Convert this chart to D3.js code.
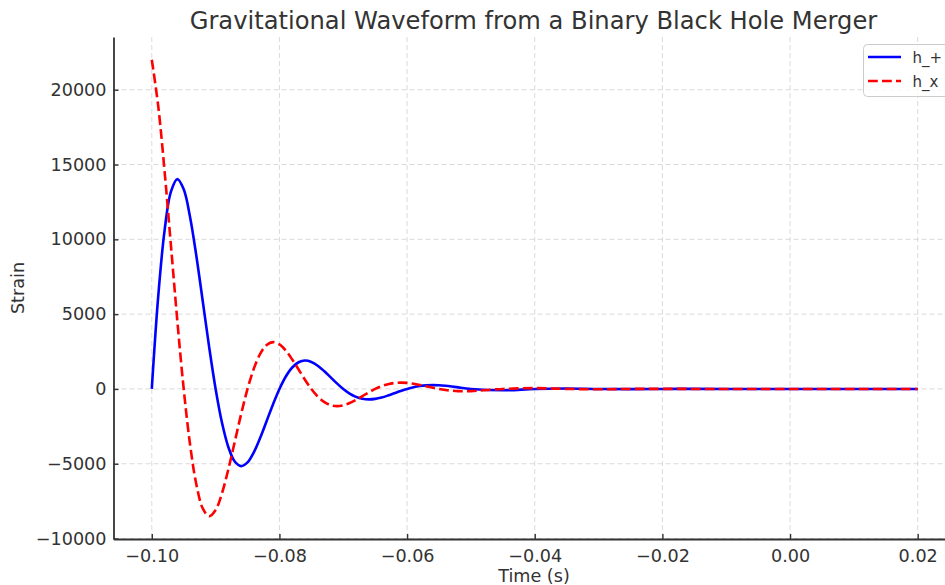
<!DOCTYPE html>
<html>
<head>
<meta charset="utf-8">
<script src="https://cdn.jsdelivr.net/npm/d3@7"></script>
<style>
  body { margin: 0; background: #fff; }
  svg { display: block; font-family: "DejaVu Sans", sans-serif; }
</style>
</head>
<body>
<div id="chart"></div>
<script>
// tijd in seconden (fijn tot -0.05, daarna grover)
const time = [
  -0.100, -0.099, -0.098, -0.097, -0.096, -0.095, -0.094, -0.093, -0.092, -0.091,
  -0.090, -0.089, -0.088, -0.087, -0.086, -0.085, -0.084, -0.083, -0.082, -0.081,
  -0.080, -0.079, -0.078, -0.077, -0.076, -0.075, -0.074, -0.073, -0.072, -0.071,
  -0.070, -0.069, -0.068, -0.067, -0.066, -0.065, -0.064, -0.063, -0.062, -0.061,
  -0.060, -0.059, -0.058, -0.057, -0.056, -0.055, -0.054, -0.053, -0.052, -0.051,
  -0.050, -0.045, -0.040, -0.035, -0.030, -0.025, -0.020, -0.015, -0.010, -0.005,
  0.000, 0.005, 0.010, 0.015, 0.020
];

const hPlus = [
  0, 6151, 10587, 13185, 14025, 13344, 11483, 8838, 5810, 2764,
  0, -2263, -3895, -4851, -5160, -4909, -4224, -3251, -2138, -1017,
  0, 832, 1433, 1784, 1898, 1806, 1554, 1196, 786, 374,
  0, -306, -527, -656, -698, -664, -572, -440, -289, -138,
  0, 113, 194, 241, 257, 244, 210, 162, 106, 51,
  0, -90, 0, 33, 0, -12, 0, 4, 0, 0,
  0, 0, 0, 0, 0
];

const hCross = [
  22000, 18932, 14572, 9580, 4557, 0, -3731, -6421, -7997, -8507,
  -8093, -6965, -5361, -3524, -1676, 0, 1373, 2362, 2942, 3129,
  2977, 2562, 1972, 1296, 617, 0, -505, -869, -1082, -1151,
  -1095, -943, -726, -477, -227, 0, 186, 320, 398, 424,
  403, 347, 267, 175, 83, 0, -68, -118, -146, -156,
  -148, 0, 55, 0, -20, 0, 7, 0, -3, 0,
  0, 0, 0, 0, 0
];

const xTicks = [-0.10, -0.08, -0.06, -0.04, -0.02, 0.00, 0.02];
const yTicks = [-10000, -5000, 0, 5000, 10000, 15000, 20000];

const series = [
  { name: "h_+", values: hPlus, color: "#0000ff", dash: null },
  { name: "h_x", values: hCross, color: "#ff0000", dash: "9.8,4.2" }
];

const W = 945, H = 585;
const mLeft = 113.5, mRight = 956, mTop = 37, mBottom = 539;
const txt = "#333";

const svg = d3.select("#chart").append("svg")
  .attr("width", W).attr("height", H);

const x = d3.scaleLinear().domain([-0.106, 0.026]).range([mLeft, mRight]);
const y = d3.scaleLinear().domain([-10030, 23525]).range([mBottom, mTop]);

// grid
const grid = svg.append("g");
grid.selectAll(".gx").data(xTicks).enter().append("line")
  .attr("x1", d => x(d)).attr("x2", d => x(d))
  .attr("y1", mTop).attr("y2", mBottom)
  .style("stroke", "#d0d0d0").style("stroke-width", 0.8)
  .style("stroke-dasharray", "5,3");
grid.selectAll(".gy").data(yTicks).enter().append("line")
  .attr("x1", mLeft).attr("x2", mRight)
  .attr("y1", d => y(d)).attr("y2", d => y(d))
  .style("stroke", "#d0d0d0").style("stroke-width", 0.8)
  .style("stroke-dasharray", "5,3");

// lijnen
const line = d3.line()
  .x((d, i) => x(time[i]))
  .y(d => y(d))
  .curve(d3.curveCatmullRom.alpha(0.5));

const plot = svg.append("g");
series.forEach(s => {
  plot.append("path")
    .datum(s.values)
    .attr("d", line)
    .style("fill", "none")
    .style("stroke", s.color)
    .style("stroke-width", 2.6)
    .style("stroke-dasharray", s.dash);
});

// assen
const xAxis = d3.axisBottom(x).tickValues(xTicks)
  .tickFormat(d => d3.format(".2f")(d).replace("-", "\u2212"))
  .tickSizeInner(-5).tickSizeOuter(0).tickPadding(11);
const gx = svg.append("g")
  .attr("transform", "translate(0," + mBottom + ")")
  .call(xAxis);

const yAxis = d3.axisLeft(y).tickValues(yTicks)
  .tickFormat(d => String(d).replace("-", "\u2212"))
  .tickSizeInner(-5).tickSizeOuter(0).tickPadding(7);
const gy = svg.append("g")
  .attr("transform", "translate(" + mLeft + ",0)")
  .call(yAxis);

[gx, gy].forEach(g => {
  g.select(".domain").style("stroke", txt).style("stroke-width", 1.8);
  g.selectAll(".tick line").style("stroke", txt).style("stroke-width", 1.4);
  g.selectAll(".tick text")
    .style("fill", txt)
    .style("font-size", "17.6px")
    .style("font-family", "DejaVu Sans");
});
gy.selectAll(".tick text").attr("x", -7);

// titels
svg.append("text")
  .attr("x", 533.5).attr("y", 29)
  .attr("text-anchor", "middle")
  .style("font-size", "24.2px").style("fill", txt)
  .text("Gravitational Waveform from a Binary Black Hole Merger");

svg.append("text")
  .attr("x", 534).attr("y", 582)
  .attr("text-anchor", "middle")
  .style("font-size", "17.6px").style("fill", txt)
  .text("Time (s)");

svg.append("text")
  .attr("transform", "translate(24," + ((mTop + mBottom) / 2) + ") rotate(-90)")
  .attr("text-anchor", "middle")
  .style("font-size", "17.6px").style("fill", txt)
  .text("Strain");

// legenda
const lg = svg.append("g");
lg.append("rect")
  .attr("x", 863.5).attr("y", 44.5)
  .attr("width", 90).attr("height", 52)
  .attr("rx", 4)
  .style("fill", "#fff").style("fill-opacity", 0.8)
  .style("stroke", "#cccccc").style("stroke-width", 1);

series.forEach((s, i) => {
  const ly = 57 + i * 24;
  lg.append("line")
    .attr("x1", 868).attr("x2", 901)
    .attr("y1", ly).attr("y2", ly)
    .style("stroke", s.color).style("stroke-width", 2.6)
    .style("stroke-dasharray", s.dash);
  lg.append("text")
    .attr("x", 912.5).attr("y", ly + 6)
    .style("font-size", "15px").style("fill", txt)
    .text(s.name);
});
</script>
</body>
</html>
